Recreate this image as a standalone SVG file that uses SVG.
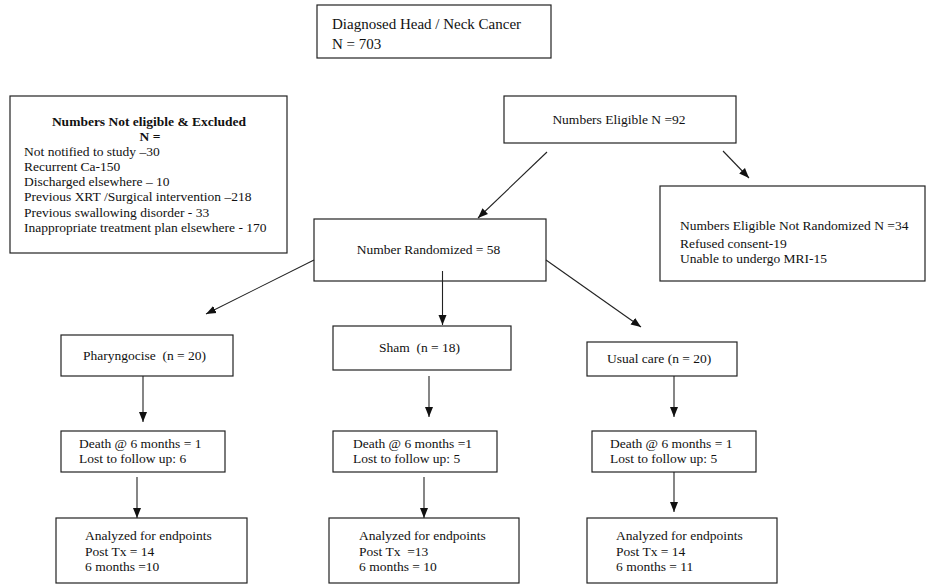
<svg xmlns="http://www.w3.org/2000/svg" width="927" height="585" viewBox="0 0 927 585">
<style>
text{font-family:"Liberation Serif","Times New Roman",serif;font-size:13.5px;fill:#111;white-space:pre}
.big{font-size:15px}
.b{font-weight:bold}
.box{fill:#fff;stroke:#222;stroke-width:1.2}
.c line{stroke:#222;stroke-width:1.1;marker-end:url(#ah)}
</style>
<defs>
<marker id="ah" viewBox="0 0 10 10" refX="10" refY="5" markerWidth="10" markerHeight="10" markerUnits="userSpaceOnUse" orient="auto">
<path d="M0,1 L10,5 L0,9 Z" fill="#111"/>
</marker>
</defs>
<rect width="927" height="585" fill="#fff"/>
<g id="diagnosed"><rect class="box" x="317" y="5" width="234" height="53"/>
<text class="big" x="332" y="29">Diagnosed Head / Neck Cancer</text>
<text class="big" x="332" y="49">N = 703</text></g>
<g id="excluded"><rect class="box" x="10" y="96" width="277" height="157"/>
<text class="b" x="149" y="126" text-anchor="middle">Numbers Not eligible &amp; Excluded</text>
<text class="b" x="150" y="141" text-anchor="middle">N =</text>
<text x="24" y="156">Not notified to study –30</text>
<text x="24" y="171">Recurrent Ca-150</text>
<text x="24" y="186">Discharged elsewhere – 10</text>
<text x="24" y="201">Previous XRT /Surgical intervention –218</text>
<text x="24" y="217">Previous swallowing disorder - 33</text>
<text x="24" y="232">Inappropriate treatment plan elsewhere - 170</text></g>
<g id="eligible"><rect class="box" x="504" y="96" width="232" height="47"/>
<text x="619" y="124" text-anchor="middle">Numbers Eligible N =92</text></g>
<g id="notrandomized"><rect class="box" x="660" y="186" width="265" height="95"/>
<text x="680" y="230">Numbers Eligible Not Randomized N =34</text>
<text x="680" y="248">Refused consent-19</text>
<text x="680" y="263">Unable to undergo MRI-15</text></g>
<g id="randomized"><rect class="box" x="314" y="219" width="232" height="62"/>
<text x="428.5" y="254" text-anchor="middle">Number Randomized = 58</text></g>
<g id="pharyngocise"><rect class="box" x="61" y="335" width="172" height="41"/>
<text x="83" y="360">Pharyngocise  (n = 20)</text></g>
<g id="sham"><rect class="box" x="333" y="326" width="178" height="44"/>
<text x="379" y="352">Sham  (n = 18)</text></g>
<g id="usual"><rect class="box" x="587" y="342" width="150" height="34"/>
<text x="607" y="363">Usual care (n = 20)</text></g>
<g id="death1"><rect class="box" x="61" y="431" width="164" height="41"/>
<text x="79" y="448">Death @ 6 months = 1</text>
<text x="79" y="463">Lost to follow up: 6</text></g>
<g id="death2"><rect class="box" x="333" y="431" width="164" height="41"/>
<text x="353" y="448">Death @ 6 months =1</text>
<text x="353" y="463">Lost to follow up: 5</text></g>
<g id="death3"><rect class="box" x="592" y="431" width="164" height="41"/>
<text x="610" y="448">Death @ 6 months = 1</text>
<text x="610" y="463">Lost to follow up: 5</text></g>
<g id="analyzed1"><rect class="box" x="56" y="518" width="191" height="65"/>
<text x="85" y="540">Analyzed for endpoints</text>
<text x="85" y="556">Post Tx = 14</text>
<text x="85" y="571">6 months =10</text></g>
<g id="analyzed2"><rect class="box" x="329" y="518" width="190" height="65"/>
<text x="359" y="540">Analyzed for endpoints</text>
<text x="359" y="556">Post Tx  =13</text>
<text x="359" y="571">6 months = 10</text></g>
<g id="analyzed3"><rect class="box" x="587" y="518" width="190" height="65"/>
<text x="616" y="540">Analyzed for endpoints</text>
<text x="616" y="556">Post Tx = 14</text>
<text x="616" y="571">6 months = 11</text></g>
<g id="connectors" class="c">
<line x1="547" y1="152" x2="478" y2="218"/>
<line x1="723" y1="151" x2="749" y2="178"/>
<line x1="314" y1="260" x2="206" y2="314"/>
<line x1="442.5" y1="271" x2="442.5" y2="325"/>
<line x1="546" y1="260" x2="641" y2="327"/>
<line x1="143" y1="376" x2="143" y2="422"/>
<line x1="429" y1="376" x2="429" y2="417"/>
<line x1="674" y1="376" x2="674" y2="417"/>
<line x1="137" y1="477" x2="137" y2="518"/>
<line x1="424" y1="477" x2="424" y2="518"/>
<line x1="674" y1="472" x2="674" y2="512"/>
</g>
</svg>
